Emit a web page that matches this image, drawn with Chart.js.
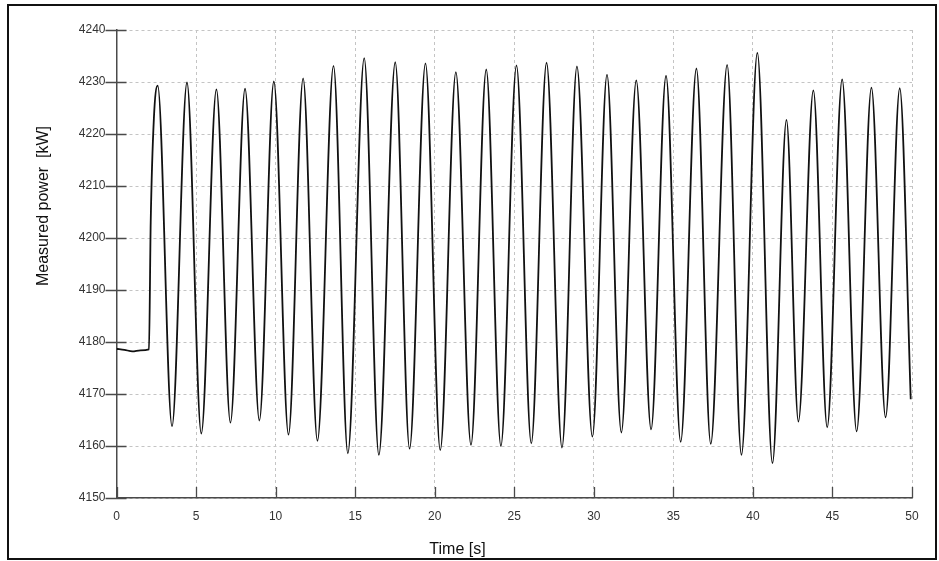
<!DOCTYPE html>
<html>
<head>
<meta charset="utf-8">
<script src="https://cdn.jsdelivr.net/npm/chart.js@4/dist/chart.umd.min.js"></script>
<style>
  html, body { margin: 0; padding: 0; background: #fff; }
  #wrap { position: relative; width: 939px; height: 561px; }
</style>
</head>
<body>
<div id="wrap"><canvas id="powerChart" width="939" height="561"></canvas></div>
<script>
// time [s] and measured power [kW] (turning points of the oscillation)
const timeS = [
  0, 0.5, 1.0, 1.5, 2.04, 2.15, 2.35, 2.59,
  3.49, 4.43, 5.33, 6.28, 7.16, 8.08, 8.98, 9.89, 10.81, 11.73,
  12.63, 13.64, 14.54, 15.57, 16.49, 17.52, 18.42, 19.42, 20.35, 21.33,
  22.28, 23.24, 24.16, 25.14, 26.07, 27.03, 28.0, 28.94, 29.91, 30.83,
  31.73, 32.67, 33.6, 34.54, 35.46, 36.45, 37.35, 38.38, 39.28, 40.28,
  41.23, 42.11, 42.86, 43.8, 44.67, 45.61, 46.52, 47.45, 48.34, 49.23, 49.92
];
const powerKW = [
  4178.7, 4178.5, 4178.2, 4178.4, 4178.6, 4203, 4223, 4229.3,
  4163.8, 4229.9, 4162.4, 4228.6, 4164.5, 4228.7, 4164.9, 4230.1, 4162.2, 4230.7,
  4161.0, 4233.1, 4158.6, 4234.6, 4158.3, 4233.8, 4159.5, 4233.6, 4159.2, 4231.9,
  4160.2, 4232.4, 4160.0, 4233.2, 4160.5, 4233.7, 4159.7, 4233.0, 4161.8, 4231.4,
  4162.6, 4230.3, 4163.2, 4231.2, 4160.8, 4232.6, 4160.4, 4233.3, 4158.3, 4235.6,
  4156.7, 4222.7, 4164.7, 4228.4, 4163.6, 4230.5, 4162.8, 4228.9, 4165.5, 4228.8, 4169.0
];
const xTicks = [0, 5, 10, 15, 20, 25, 30, 35, 40, 45, 50];
const yTicks = [4150, 4160, 4170, 4180, 4190, 4200, 4210, 4220, 4230, 4240];

const FONT = '"Liberation Sans", Arial, sans-serif';
const AXIS_COL = '#4a4a4a';

const frameAndTitles = {
  id: 'frameAndTitles',
  afterDraw(chart) {
    const ctx = chart.ctx;
    const ca = chart.chartArea;
    const xs = chart.scales.x, ys = chart.scales.y;
    ctx.save();
    // tick marks: y crosses the axis, x only inside
    ctx.strokeStyle = AXIS_COL;
    ctx.lineWidth = 1.3;
    ctx.beginPath();
    yTicks.forEach(v => {
      const py = Math.round(ys.getPixelForValue(v)) + 0.5;
      ctx.moveTo(ca.left - 11, py);
      ctx.lineTo(ca.left + 10, py);
    });
    xTicks.forEach(v => {
      const px = Math.round(xs.getPixelForValue(v)) + 0.5;
      ctx.moveTo(px, ca.bottom);
      ctx.lineTo(px, ca.bottom - 11);
    });
    ctx.stroke();

    // axis titles
    ctx.fillStyle = '#111';
    ctx.font = '16px ' + FONT;
    ctx.textAlign = 'center';
    ctx.textBaseline = 'alphabetic';
    ctx.fillText('Time [s]', 457.5, 554);
    ctx.translate(48, 206);
    ctx.rotate(-Math.PI / 2);
    ctx.fillText('Measured power  [kW]', 0, 0);
    ctx.restore();

    // outer frame
    ctx.save();
    ctx.strokeStyle = '#111';
    ctx.lineWidth = 2;
    ctx.strokeRect(8, 5, 928, 554);
    ctx.restore();
  }
};

new Chart(document.getElementById('powerChart'), {
  type: 'line',
  data: {
    datasets: [{
      data: timeS.map((t, i) => ({ x: t, y: powerKW[i] })),
      borderColor: '#111',
      borderWidth: 1.8,
      pointRadius: 0,
      cubicInterpolationMode: 'monotone',
      fill: false
    }]
  },
  options: {
    responsive: false,
    animation: false,
    devicePixelRatio: 1,
    layout: { padding: { left: 0, top: 30, right: 27, bottom: 0 } },
    plugins: { legend: { display: false }, tooltip: { enabled: false } },
    scales: {
      x: {
        type: 'linear',
        min: 0, max: 50,
        afterBuildTicks: s => { s.ticks = xTicks.map(v => ({ value: v })); },
        afterFit: s => { s.height = 63; },
        grid: { color: '#c4c4c4', lineWidth: 1, drawTicks: false },
        border: { display: true, color: AXIS_COL, width: 1.5, dash: [3, 3] },
        ticks: { padding: 11, color: '#333', font: { family: FONT, size: 12 }, maxRotation: 0, callback: v => String(v) }
      },
      y: {
        type: 'linear',
        min: 4150, max: 4240,
        afterBuildTicks: s => { s.ticks = yTicks.map(v => ({ value: v })); },
        afterFit: s => { s.width = 116.5; },
        grid: { color: '#c4c4c4', lineWidth: 1, drawTicks: false },
        border: { display: true, color: AXIS_COL, width: 1.5, dash: [3, 3] },
        ticks: { padding: 11, color: '#333', font: { family: FONT, size: 12 }, callback: v => String(v) }
      }
    }
  },
  plugins: [frameAndTitles]
});
</script>
</body>
</html>
